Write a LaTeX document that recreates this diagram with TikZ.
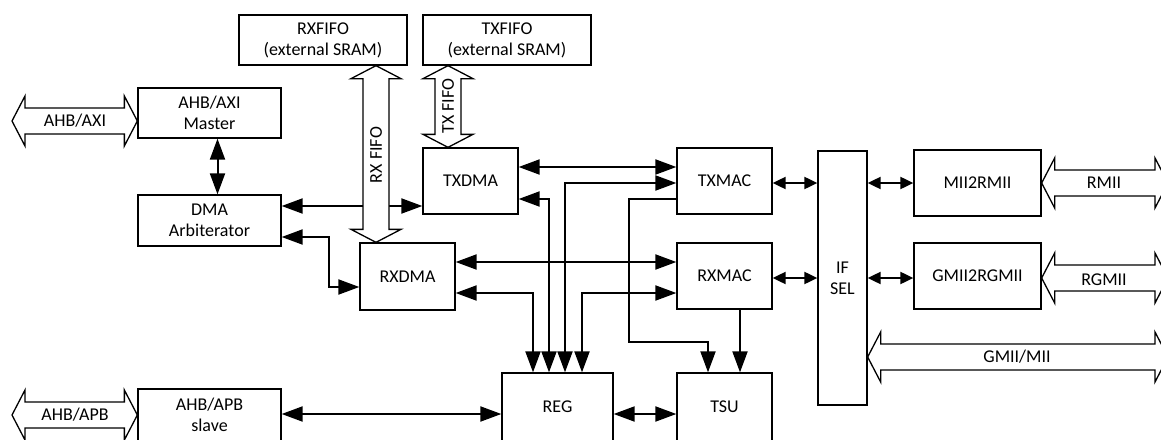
\documentclass[tikz,border=0pt]{standalone}
\usepackage{fontspec}
\setmainfont{Carlito}
\usetikzlibrary{arrows.meta,calc}
\newcommand\hbus[2]{\draw[bus] (#1) -- ($(#1)+(13,-25)$) -- ($(#1)+(13,-13)$) -- ($(#2)+(-13,-13)$) -- ($(#2)+(-13,-25)$) -- (#2) -- ($(#2)+(-13,25)$) -- ($(#2)+(-13,13)$) -- ($(#1)+(13,13)$) -- ($(#1)+(13,25)$) -- cycle;}
\newcommand\vbus[2]{\draw[bus] (#1) -- ($(#1)+(25,13)$) -- ($(#1)+(13,13)$) -- ($(#2)+(13,-13)$) -- ($(#2)+(25,-13)$) -- (#2) -- ($(#2)+(-25,-13)$) -- ($(#2)+(-13,-13)$) -- ($(#1)+(-13,13)$) -- ($(#1)+(-25,13)$) -- cycle;}
\begin{document}
\begin{tikzpicture}[x=1pt,y=-1pt,
  box/.style={draw, line width=1.3pt, fill=white, inner sep=0pt, align=center,
    font=\fontsize{18}{21}\selectfont},
  lbl/.style={inner sep=0pt, align=center, font=\fontsize{18}{21}\selectfont},
  conn/.style={line width=2pt, {Triangle[length=21pt,width=15pt]}-{Triangle[length=21pt,width=15pt]}},
  conn1/.style={line width=2pt, -{Triangle[length=21pt,width=15pt]}},
  shortconn/.style={line width=2pt, {Triangle[length=13pt,width=12pt]}-{Triangle[length=13pt,width=12pt]}},
  bus/.style={draw, fill=white, line width=1.3pt, line join=miter}]
\useasboundingbox (0,0) rectangle (1161,439);
\clip (0,0) rectangle (1161,439);

% boxes
\node[box, minimum width=168, minimum height=50] (rxfifo) at (323,40) {RXFIFO\\(external SRAM)};
\node[box, minimum width=168, minimum height=50] (txfifo) at (507,40) {TXFIFO\\(external SRAM)};
\node[box, minimum width=143, minimum height=50] (master) at (209.5,113) {AHB/AXI\\Master};
\node[box, minimum width=143, minimum height=51] (arb) at (209.5,220.5) {DMA\\Arbiterator};
\node[box, minimum width=95, minimum height=66] (txdma) at (470.5,181) {TXDMA};
\node[box, minimum width=95, minimum height=67] (rxdma) at (407.5,276.5) {RXDMA};
\node[box, minimum width=95, minimum height=66] (txmac) at (724.5,181) {TXMAC};
\node[box, minimum width=95, minimum height=66] (rxmac) at (724.5,276) {RXMAC};
\node[box, minimum width=49, minimum height=254] (ifsel) at (842.5,278) {IF\\SEL};
\node[box, minimum width=127, minimum height=66] (mii2rmii) at (977.5,183) {MII2RMII};
\node[box, minimum width=127, minimum height=66] (gmii2rgmii) at (977.5,276) {GMII2RGMII};
\node[box, minimum width=111, minimum height=68] (reg) at (557.5,407) {REG};
\node[box, minimum width=95, minimum height=68] (tsu) at (724.5,407) {TSU};
\node[box, minimum width=143, minimum height=52] (slave) at (209.5,415) {AHB/APB\\slave};

% connectors
\draw[conn] ([xshift=8pt]master.south) -- ([xshift=8pt]arb.north);
\draw[conn] (arb.east |- 0,206) -- (txdma.west |- 0,206);
\draw[conn] (arb.east |- 0,237) -- (329,237) -- (329,287) -- (rxdma.west |- 0,287);
\draw[conn] (txdma.east |- 0,167) -- (txmac.west |- 0,167);
\draw[conn] (reg.north -| 565,0) -- (565,183) -- (txmac.west |- 0,183);
\draw[conn] (reg.north -| 549,0) -- (549,199) -- (txdma.east |- 0,199);
\draw[conn] (reg.north -| 533,0) -- (533,293) -- (rxdma.east |- 0,293);
\draw[conn] (reg.north -| 582,0) -- (582,293) -- (rxmac.west |- 0,293);
\draw[conn] (rxdma.east |- 0,262) -- (rxmac.west |- 0,262);
\draw[conn1] (txmac.west |- 0,199) -- (629,199) -- (629,342) -- (708,342) -- (tsu.north -| 708,0);
\draw[conn1] (rxmac.south -| 740,0) -- (tsu.north -| 740,0);
\draw[conn] (slave.east |- 0,414) -- (reg.west |- 0,414);
\draw[conn] (reg.east |- 0,414) -- (tsu.west |- 0,414);
\draw[shortconn] (txmac.east |- 0,183) -- (ifsel.west |- 0,183);
\draw[shortconn] (rxmac.east |- 0,278) -- (ifsel.west |- 0,278);
\draw[shortconn] (ifsel.east |- 0,183) -- (mii2rmii.west |- 0,183);
\draw[shortconn] (ifsel.east |- 0,278) -- (gmii2rgmii.west |- 0,278);

% bus arrows
\coordinate (axiL) at (12,121); \coordinate (axiR) at (master.west |- axiL);
\coordinate (apbL) at (12,415); \coordinate (apbR) at (slave.west |- apbL);
\coordinate (rmiiR) at (1168,183); \coordinate (rmiiL) at (mii2rmii.east |- rmiiR);
\coordinate (rgmiiR) at (1168,278); \coordinate (rgmiiL) at (gmii2rgmii.east |- rgmiiR);
\coordinate (gmiiR) at (1168,357); \coordinate (gmiiL) at (ifsel.east |- gmiiR);
\coordinate (rxT) at (rxfifo.south -| 376,0); \coordinate (rxB) at (rxdma.north -| rxT);
\coordinate (txT) at (txfifo.south -| 448,0); \coordinate (txB) at (txdma.north -| txT);
\hbus{axiL}{axiR}
\hbus{apbL}{apbR}
\hbus{rmiiL}{rmiiR}
\hbus{rgmiiL}{rgmiiR}
\hbus{gmiiL}{gmiiR}
\vbus{rxT}{rxB}
\vbus{txT}{txB}

% bus labels
\node[lbl] (axilbl) at (75,121) {AHB/AXI};
\node[lbl] (apblbl) at (75,415) {AHB/APB};
\node[lbl] (rmiilbl) at (1104,183) {RMII};
\node[lbl] (rgmiilbl) at (1104,280) {RGMII};
\node[lbl] (gmiilbl) at (1017,357) {GMII/MII};
\node[lbl, rotate=90] (rxlbl) at (376,155) {RX FIFO};
\node[lbl, rotate=90] (txlbl) at (448,106) {TX FIFO};
\end{tikzpicture}
\end{document}
